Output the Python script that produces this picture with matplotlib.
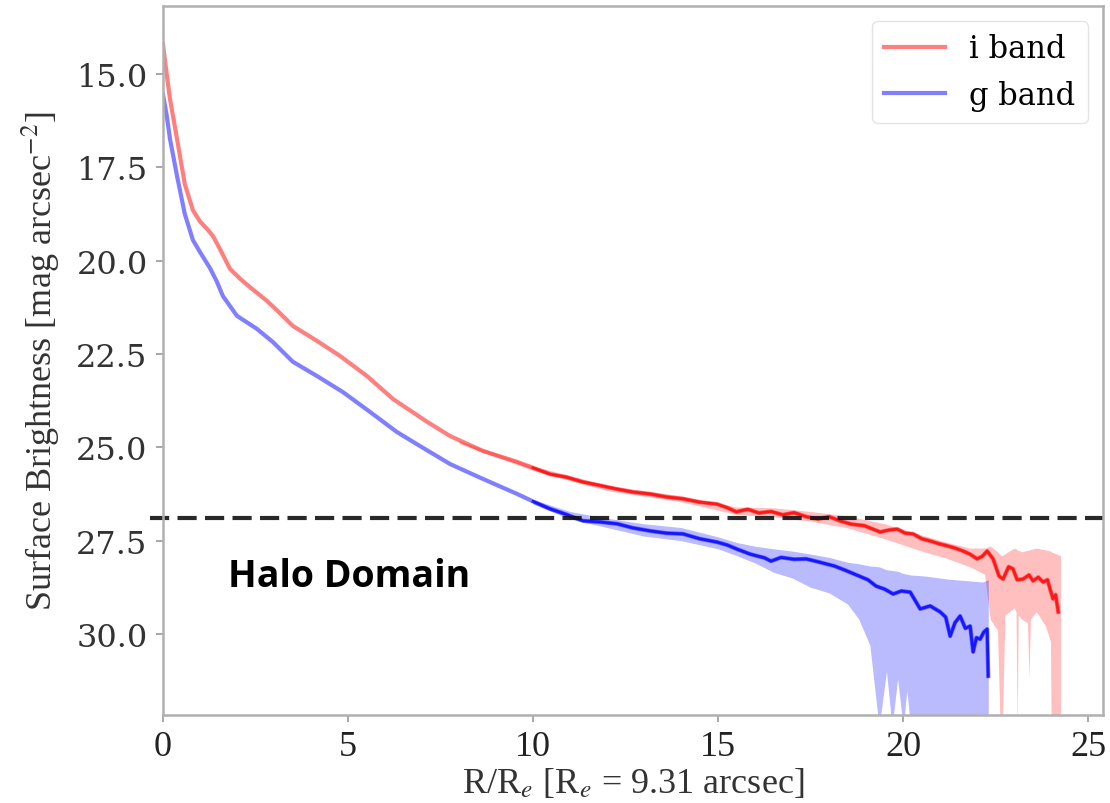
import numpy as np
import matplotlib.pyplot as plt

# ── Data ─────────────────────────────────────────────────────────────────────
# i band surface brightness profile
r_i = [0.00, 0.10, 0.19, 0.38, 0.59, 0.81, 1.00, 1.19, 1.35, 1.54, 1.81, 2.10,
       2.35, 2.81, 3.10, 3.51, 4.16, 4.78, 5.51, 6.22, 7.14, 7.76, 8.65, 9.57,
       10.00, 10.46, 10.90, 11.35, 11.80, 12.27, 12.70, 13.16, 13.60, 14.05,
       14.50, 14.97, 15.25, 15.49, 15.80, 16.10, 16.43, 16.75, 17.05, 17.38,
       17.70, 18.00, 18.32, 18.60, 18.95, 19.38, 19.60, 19.84, 20.05, 20.27,
       20.50, 20.73, 20.95, 21.19, 21.40, 21.62, 21.80, 22.00, 22.14, 22.27,
       22.43, 22.59, 22.70, 22.85, 22.97, 23.08, 23.24, 23.40, 23.51, 23.65,
       23.78, 23.90, 23.97, 24.05, 24.12, 24.19]
mu_i = [14.20, 15.00, 15.67, 16.74, 17.95, 18.65, 18.95, 19.15, 19.34, 19.69,
        20.22, 20.50, 20.71, 21.08, 21.35, 21.75, 22.15, 22.55, 23.09, 23.71,
        24.32, 24.70, 25.10, 25.39, 25.55, 25.72, 25.80, 25.93, 26.02, 26.12,
        26.20, 26.25, 26.33, 26.38, 26.47, 26.52, 26.62, 26.73, 26.66, 26.76,
        26.72, 26.81, 26.75, 26.86, 26.92, 26.86, 26.98, 27.06, 27.10, 27.27,
        27.22, 27.19, 27.30, 27.32, 27.45, 27.51, 27.58, 27.64, 27.70, 27.78,
        27.86, 27.99, 27.92, 27.78, 27.99, 28.45, 28.53, 28.20, 28.26, 28.55,
        28.53, 28.42, 28.58, 28.48, 28.61, 28.55, 28.80, 29.06, 28.95, 29.41]

# g band surface brightness profile
r_g = [0.00, 0.10, 0.19, 0.38, 0.59, 0.81, 1.00, 1.27, 1.45, 1.62, 2.00, 2.54,
       2.97, 3.51, 4.16, 4.86, 5.59, 6.32, 6.95, 7.76, 8.65, 9.57, 10.00,
       10.46, 10.90, 11.35, 11.80, 12.27, 12.70, 13.16, 13.60, 14.05, 14.50,
       14.97, 15.25, 15.49, 15.86, 16.05, 16.25, 16.43, 16.70, 17.05, 17.38,
       17.75, 18.14, 18.45, 18.81, 19.05, 19.27, 19.50, 19.73, 19.95, 20.19,
       20.46, 20.73, 21.00, 21.15, 21.27, 21.40, 21.54, 21.68, 21.81, 21.89,
       21.98, 22.08, 22.18, 22.27, 22.30]
mu_g = [15.55, 16.10, 16.74, 17.73, 18.75, 19.45, 19.77, 20.20, 20.55, 20.95,
        21.48, 21.83, 22.18, 22.71, 23.09, 23.52, 24.05, 24.59, 24.97, 25.45,
        25.85, 26.25, 26.45, 26.65, 26.80, 26.97, 27.00, 27.05, 27.16, 27.24,
        27.30, 27.32, 27.45, 27.54, 27.62, 27.72, 27.86, 27.91, 27.96, 28.05,
        27.95, 28.00, 27.99, 28.08, 28.18, 28.30, 28.45, 28.55, 28.72, 28.80,
        28.93, 28.85, 28.88, 29.33, 29.25, 29.41, 29.55, 30.06, 29.70, 29.52,
        29.85, 29.79, 30.48, 30.10, 30.14, 29.95, 29.87, 31.13]

# uncertainty envelopes (bright edge / faint edge)
band_r_i = [8.0, 10.0, 12.0, 14.0, 15.5, 16.5, 17.5, 18.5, 19.5, 20.5, 21.2,
            21.8, 22.2, 22.35, 22.55, 22.62, 22.68, 22.75, 23.0, 23.05, 23.08,
            23.11, 23.2, 23.36, 23.4, 23.44, 23.6, 23.85, 23.98, 24.0, 24.25]
band_i_bright = [24.82, 25.50, 26.02, 26.30, 26.60, 26.62, 26.72, 26.84,
                 27.05, 27.35, 27.55, 27.70, 27.70, 27.64, 27.80, 27.88, 27.90,
                 27.85, 27.70, 27.72, 27.75, 27.76, 27.80, 27.76, 27.75, 27.74,
                 27.70, 27.75, 27.78, 27.80, 27.90]
band_i_faint = [24.90, 25.62, 26.16, 26.46, 26.80, 26.86, 26.98, 27.16,
                27.45, 27.78, 27.98, 28.20, 28.40, 29.60, 29.90, 32.50, 32.50,
                29.50, 29.30, 29.40, 32.50, 29.50, 29.60, 29.70, 31.20, 29.60,
                29.40, 29.80, 30.20, 32.50, 32.50]

band_r_g = [10.0, 11.0, 12.0, 13.0, 14.0, 15.0, 15.5, 16.0, 16.5, 17.0, 17.5,
            18.0, 18.5, 18.8, 19.1, 19.35, 19.55, 19.7, 19.85, 20.0, 20.1,
            20.2, 20.6, 21.2, 21.8, 22.14, 22.30]
band_g_bright = [26.40, 26.72, 26.90, 27.05, 27.15, 27.40, 27.55, 27.65,
                 27.72, 27.78, 27.86, 27.95, 28.08, 28.12, 28.18, 28.20, 28.28,
                 28.30, 28.32, 28.38, 28.40, 28.42, 28.45, 28.53, 28.58, 28.61,
                 28.55]
band_g_faint = [26.52, 26.92, 27.15, 27.38, 27.50, 27.72, 27.90, 28.10,
                28.35, 28.50, 28.75, 28.90, 29.20, 29.60, 30.30, 32.50, 31.00,
                32.50, 31.20, 32.50, 31.50, 32.50, 32.50, 32.50, 32.50, 32.50,
                32.50]

halo_limit = 26.9
x_ticks = [0, 5, 10, 15, 20, 25]
y_ticks = [15.0, 17.5, 20.0, 22.5, 25.0, 27.5, 30.0]

# ── Figure ───────────────────────────────────────────────────────────────────
plt.rcParams["mathtext.fontset"] = "stix"
fig = plt.figure(figsize=(11.1, 8.04), dpi=100)
ax = fig.add_axes([0.1468, 0.1095, 0.8469, 0.8818])

r_i = np.array(r_i)
mu_i = np.array(mu_i)
r_g = np.array(r_g)
mu_g = np.array(mu_g)

ax.fill_between(band_r_i, band_i_bright, band_i_faint, color="red",
                alpha=0.25, lw=0)
ax.fill_between(band_r_g, band_g_bright, band_g_faint, color="blue",
                alpha=0.27, lw=0)

li, = ax.plot(r_i, mu_i, color="red", alpha=0.5, lw=3.0, label="i band")
lg, = ax.plot(r_g, mu_g, color="blue", alpha=0.5, lw=3.0, label="g band")
# noisy outer part looks denser / more saturated
ax.plot(r_i[r_i >= 10], mu_i[r_i >= 10], color="red", alpha=0.75, lw=2.0)
ax.plot(r_g[r_g >= 10], mu_g[r_g >= 10], color="blue", alpha=0.75, lw=2.0)

ax.axhline(halo_limit, xmin=-0.014, xmax=1, clip_on=False, color="#111111",
           lw=3.0, dashes=(4.6, 2.0), alpha=0.9)

ax.text(1.76, 28.45, "Halo Domain", family="Open Sans", fontweight="bold",
        fontsize=27, va="center", ha="left", color="black")

ax.set_xlim(0, 25.4)
ax.set_ylim(32.17, 13.18)
ax.set_xticks(x_ticks)
ax.set_yticks(y_ticks)
ax.set_yticklabels([f"{v:.1f}" for v in y_ticks], family="DejaVu Serif",
                   fontsize=23, color="#333333")
ax.set_xticklabels([str(v) for v in x_ticks], family="Liberation Serif",
                   fontsize=26, color="#222222")
ax.tick_params(direction="out", length=5, width=1.2, color="#999999", pad=6)

ax.set_xlabel(r"R/R$_e$ [R$_e$ = 9.31 arcsec]", family="Liberation Serif",
              fontsize=26, color="#333333", labelpad=2)
ax.set_ylabel(r"Surface Brightness [mag arcsec$^{-2}$]",
              family="Liberation Serif", fontsize=26, color="#333333",
              labelpad=10)

for s in ax.spines.values():
    s.set_color("#b0b0b0")
    s.set_linewidth(1.8)

leg = ax.legend(handles=[li, lg], loc="upper right",
                prop=dict(family="DejaVu Serif", size=22))
leg.get_frame().set_edgecolor("#dddddd")

fig.savefig("out.png", dpi=100)
